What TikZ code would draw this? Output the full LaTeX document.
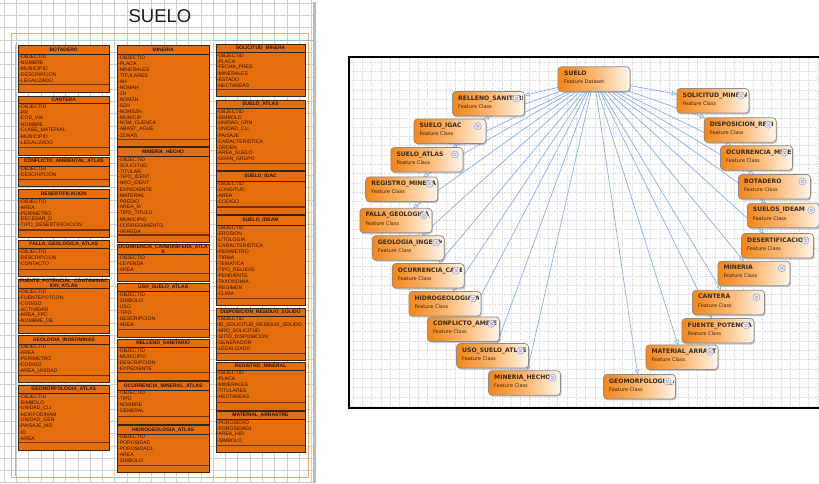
\documentclass[tikz,border=0pt]{standalone}
\usepackage{fontspec}
\setmainfont{Liberation Sans}
\newfontfamily\verd{DejaVu Sans}
\usetikzlibrary{arrows.meta,shadows,calc}

\definecolor{tblorange}{RGB}{229,110,12}
\definecolor{tblline}{RGB}{48,38,30}
\definecolor{tbltext}{RGB}{48,16,0}
\definecolor{tblband}{RGB}{112,52,12}
\definecolor{lgrid}{RGB}{208,208,208}
\definecolor{rgrid}{RGB}{222,222,222}
\definecolor{fcorange}{RGB}{243,134,28}
\definecolor{fcmid}{RGB}{250,182,110}
\definecolor{fcwhite}{RGB}{255,246,236}
\definecolor{fcborder}{RGB}{140,140,140}
\definecolor{fctext}{RGB}{58,40,26}
\definecolor{linkblue}{RGB}{138,176,240}
\definecolor{frameorange}{RGB}{244,172,112}
\definecolor{iconfill}{RGB}{236,240,250}
\definecolor{iconline}{RGB}{150,160,192}

\pgfdeclarelayer{edges}
\pgfsetlayers{edges,main}

\tikzset{
  tbl/.style={fill=tblorange, draw=tblline, line width=0.9pt},
  sepline/.style={draw=tblline, line width=0.8pt},
  botline/.style={draw=tblband, line width=1.4pt},
  hdr/.style={font=\fontsize{5}{5}\selectfont\bfseries, text=tbltext, inner sep=0pt, align=center},
  fld/.style={font=\fontsize{5.1}{5}\selectfont, text=tbltext, inner sep=0pt, anchor=west},
  fcbox/.style={rectangle, rounded corners=3.5pt, minimum width=72pt, minimum height=24.5pt,
    draw=fcborder, line width=0.7pt, left color=fcorange, right color=fcwhite, middle color=fcmid,
    drop shadow={shadow xshift=1.2pt, shadow yshift=-1.5pt, opacity=0.35, fill=black!60},
    outer sep=0pt, inner sep=0pt},
  fctitle/.style={font={\verd\fontsize{6.1}{7}\selectfont\bfseries}, text=fctext, inner sep=0pt, anchor=base west},
  fcsub/.style={font={\verd\fontsize{5}{6}\selectfont}, text=fctext, inner sep=0pt, anchor=base west},
  fcicon/.style={circle, minimum size=7pt, inner sep=0pt, fill=iconfill, draw=iconline, line width=0.5pt},
  chev/.style={draw=iconline, line width=0.6pt},
  link/.style={draw=linkblue, line width=0.7pt, -{Triangle[open, length=5pt, width=4.5pt, line width=0.7pt]}},
  lgridline/.style={draw=lgrid, line width=0.6pt},
  rgridline/.style={draw=rgrid, line width=0.5pt, dash pattern=on 1.5pt off 1pt},
}

% one table of the schema: name, left, right, top, header bottom, bottom, header, fields
\newcommand\fieldtable[8]{%
  \draw[tbl] (#2,#4) rectangle (#3,#6);
  \draw[sepline] (#2,#5) -- (#3,#5);
  \draw[botline] (#2,{#6-7.5}) -- (#3,{#6-7.5});
  \node[hdr] (#1) at ({(#2+#3)/2},{(#4+#5)/2}) {#7};
  \foreach \fname [count=\k] in {#8}
    \node[fld] (#1-\k) at ({#2+0.6},{#5+3+6*(\k-1)}) {-\fname};
}

% one feature class of the dataset, linked from the dataset node;
% its long name runs under the expand icon and is cut at the box edge
\newcommand\featclass[4]{%
  \node[fcbox] (#1) at (#2,#3) {};
  \begin{scope}
    \clip ($(#1.north west)+(1,1)$) rectangle ($(#1.south east)+(-2.5,-1)$);
    \node[fctitle] (#1-t) at ($(#1.north west)+(5.5,8.6)$) {#4};
  \end{scope}
  \node[fcsub] (#1-s) at ($(#1.north west)+(5.5,16.8)$) {Feature Class};
  \node[fcicon] (#1-i) at ($(#1.north east)+(-8,7)$) {};
  \draw[chev] ($(#1-i.center)+(-1.6,-1.5)$) -- ++(1.6,1.1) -- ++(1.6,-1.1);
  \draw[chev] ($(#1-i.center)+(-1.6,0.2)$) -- ++(1.6,1.1) -- ++(1.6,-1.1);
  \begin{pgfonlayer}{edges}
    \draw[link] (suelo) -- (#1);
  \end{pgfonlayer}
}

\begin{document}
\begin{tikzpicture}[x=1pt,y=-1pt]
\useasboundingbox (0,0) rectangle (819,483);

\begin{pgfonlayer}{edges}
  \fill[white] (0,0) rectangle (819,483);
  % drawing-sheet grid
  \foreach \gx in {4,16.3,...,313} \draw[lgridline] (\gx,0) -- (\gx,483);
  \foreach \gy in {3,15.3,...,483} \draw[lgridline] (0,\gy) -- (313,\gy);
  % canvas grid of the dataset view
  \foreach \gx in {353,362.3,...,819} \draw[rgridline] (\gx,58) -- (\gx,407);
  \foreach \gy in {62,71.3,...,407} \draw[rgridline] (349,\gy) -- (819,\gy);
\end{pgfonlayer}

% ---------- schema sheet ----------
\node[font=\fontsize{18.5}{20}\selectfont, text={rgb,255:red,28;green,28;blue,28}] (title) at (160,16.5) {SUELO};
\draw[draw=frameorange, line width=1pt] (11,33.5) rectangle (308.5,477);
\draw[draw=gray!60, line width=0.6pt] (15.5,45) -- (15.5,476);
\draw[draw=gray!60, line width=0.6pt] (213,40.5) -- (313,40.5);
\draw[draw=gray!55, line width=2.5pt] (314.5,2) -- (314.5,483);

\fieldtable{tbotadero}{18.5}{109}{45}{54}{92}{BOTADERO}{OBJECTID,NOMBRE,MUNICIPIO,DESCRIPCION,LEGALIZADO}
\fieldtable{tcantera}{18.5}{109}{96.7}{103.5}{155}{CANTERA}{OBJECTID,PR,COD\_VIA,NOMBRE,CLASE\_MATERIAL,MUNICIPIO,LEGALIZADO}
\fieldtable{tconflicto}{18.5}{109}{157}{166}{186.7}{CONFLICTO\_AMBIENTAL\_ATLAS}{OBJECTID,DESCRIPCION}
\fieldtable{tdesert}{18.5}{109}{189}{198.3}{237.3}{DESERTIFICACION}{OBJECTID,AREA,PERIMETRO,DECESAR\_D,TIPO\_DESERTIFICACION}
\fieldtable{tfalla}{18.5}{109}{240}{248.3}{276.7}{FALLA\_GEOLOGICA\_ATLAS}{OBJECTID,DESCRIPCION,CONTACTO}
\fieldtable{tfuente}{18.5}{109}{279}{288.3}{333}{FUENTE\_POTENCIAL\_CONTAMINAC\\ION\_ATLAS}{OBJECTID,FUENTEPOTCON,CODIGO,ACTIVIDAD,AREA\_FPC,NOMBRE\_DE}
\fieldtable{tgeologia}{18.5}{109}{335.7}{344}{382.7}{GEOLOGIA\_INGEOMINAS}{OBJECTID,AREA,PERIMETRO,CODIGO,AREA\_UNIDAD}
\fieldtable{tgeomorf}{18.5}{109}{385}{393.3}{450}{GEOMORFOLOGIA\_ATLAS}{OBJECTID,SIMBOLO,UNIDAD\_CLI,MORFODINAM,UNIDAD\_GEN,PAISAJE\_MO,ID,AREA}

\fieldtable{tmineria}{117.3}{209}{45}{54.3}{146.7}{MINERIA}{OBJECTID,PLACA,MINERALES,TITULARES,AH,NOMAH,ZH,NOMZH,SZH,NOMSZH,MUNICIP,NOM\_CUENCA,ABAST\_AGUE,ZONAS}
\fieldtable{tmhecho}{117.3}{209}{147.3}{156.7}{242.3}{MINERIA\_HECHO}{OBJECTID,SOLICITUD,TITULAR,TIPO\_IDENT,NRO\_IDENT,EXPEDIENTE,MATERIAL,PREDIO,AREA\_M,TIPO\_TITULO,MUNICIPIO,CORREGIMIENTO,VEREDA}
\fieldtable{tocucarb}{117.3}{209}{244.3}{254.3}{281}{OCURRENCIA\_CARBONIFERA\_ATLA\\S}{OBJECTID,LEYENDA,AREA}
\fieldtable{tuso}{117.3}{209}{283.3}{291.7}{337}{USO\_SUELO\_ATLAS}{OBJECTID,SIMBOLO,USO,TIPO,DESCRIPCION,AREA}
\fieldtable{trelleno}{117.3}{209}{339.3}{347.3}{380}{RELLENO\_SANITARIO}{OBJECTID,MUNICIPIO,DESCRIPCION,EXPEDIENTE}
\fieldtable{tocumin}{117.3}{209}{381.7}{390}{424}{OCURRENCIA\_MINERAL\_ATLAS}{OBJECTID,TIPO,NOMBRE,GENERAL}
\fieldtable{thidro}{117.3}{209}{425.7}{434}{472.7}{HIDROGEOLOGIA\_ATLAS}{OBJECTID,POROSIDAD,POROSIDAD1,AREA,SIMBOLO}

\fieldtable{tsolicitud}{216}{305}{44}{52.7}{96.7}{SOLICITUD\_MINERA}{OBJECTID,PLACA,FECHA\_PRES,MINERALES,ESTADO,HECTAREAS}
\fieldtable{tsatlas}{216}{305}{100}{108.3}{170.7}{SUELO\_ATLAS}{OBJECTID,SIMBOLO,UNIDAD\_GRN,UNIDAD\_CLI,PAISAJE,CARACTERISTICA,ORDEN,AREA\_SUELO,GRAN\_GRUPO}
\fieldtable{tsigac}{216}{305}{171.7}{181}{214.3}{SUELO\_IGAC}{OBJECTID,LONGITUD,AREA,CODIGO}
\fieldtable{tsideam}{216}{305}{215.7}{225}{305.7}{SUELO\_IDEAM}{OBJECTID,EROSION,LITOLOGIA,CARACTERISTICA,PERIMETRO,TIRMA,TEMATICA,TIPO\_RELIEVE,PENDIENTE,TAXONOMIA,REGIMEN,CLIMA}
\fieldtable{tdisp}{216}{305}{308.3}{316}{360.7}{DISPOSICION\_RESIDUO\_SOLIDO}{OBJECTID,ID\_SOLICITUD\_RESIDUO\_SOLIDO,NRO\_SOLICITUD,SITIO\_DISPOSICION,GENERADOR,LEGALIZADO}
\fieldtable{tregistro}{216}{305}{362.3}{370}{410}{REGISTRO\_MINERAL}{OBJECTID,PLACA,MINERALES,TITULARES,HECTAREAS}
\fieldtable{tmaterial}{216}{305}{411.7}{419.3}{452.7}{MATERIAL\_ARRASTRE}{POROSIDAD,POROSIDAD1,AREA\_HID,SIMBOLO}

% ---------- dataset view ----------
\draw[line width=2pt] (822,57) -- (348.5,57) -- (348.5,408) -- (822,408);

\node[fcbox] (suelo) at (594,79) {};
\node[fctitle] (suelo-t) at ($(suelo.north west)+(6,8.6)$) {SUELO};
\node[fcsub] (suelo-s) at ($(suelo.north west)+(6,16.8)$) {Feature Dataset};

\featclass{relleno}{488.5}{103.7}{RELLENO\_SANITARIO}
\featclass{sigac}{449.9}{131.3}{SUELO\_IGAC}
\featclass{satlas}{426.9}{159.7}{SUELO\_ATLAS}
\featclass{registro}{401.7}{189.2}{REGISTRO\_MINERAL}
\featclass{falla}{395.9}{220.5}{FALLA\_GEOLOGICA\_ATLAS}
\featclass{geologia}{408.2}{247.9}{GEOLOGIA\_INGEOMINAS}
\featclass{ocucarb}{428.2}{275.8}{OCURRENCIA\_CARBONIFERA\_ATLAS}
\featclass{hidro}{444.9}{303.7}{HIDROGEOLOGIA\_ATLAS}
\featclass{conflicto}{463.4}{329.2}{CONFLICTO\_AMBIENTAL\_ATLAS}
\featclass{uso}{492.5}{355.8}{USO\_SUELO\_ATLAS}
\featclass{mhecho}{524.5}{382.9}{MINERIA\_HECHO}
\featclass{solicitud}{712.9}{100.8}{SOLICITUD\_MINERA}
\featclass{disp}{740.2}{130}{DISPOSICION\_RESIDUO\_SOLIDO}
\featclass{ocumin}{756.5}{157.9}{OCURRENCIA\_MINERAL\_ATLAS}
\featclass{botadero}{774.4}{186.8}{BOTADERO}
\featclass{sideam}{783.2}{215.5}{SUELOS\_IDEAM}
\featclass{desert}{777.5}{245.8}{DESERTIFICACION}
\featclass{mineria}{753.9}{273.4}{MINERIA}
\featclass{cantera}{728.5}{302.5}{CANTERA}
\featclass{fuente}{717.9}{330.8}{FUENTE\_POTENCIAL\_CONTAMINACION\_ATLAS}
\featclass{material}{681.9}{357.2}{MATERIAL\_ARRASTRE}
\featclass{geomorf}{639.5}{386.7}{GEOMORFOLOGIA\_ATLAS}
\end{tikzpicture}
\end{document}
